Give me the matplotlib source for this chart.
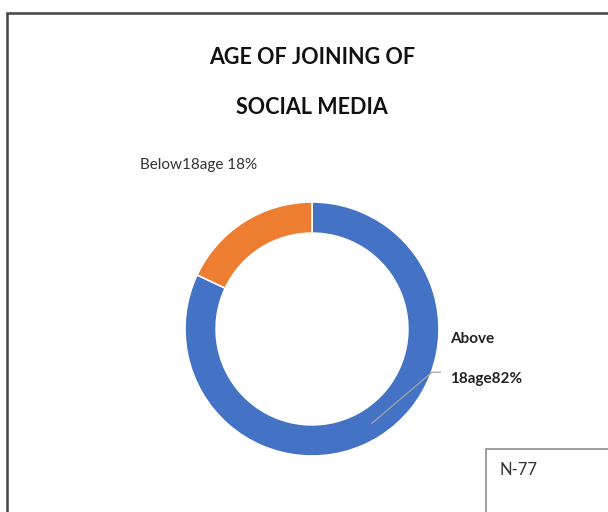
import numpy as np
import matplotlib.pyplot as plt
from matplotlib.patches import Rectangle
from matplotlib.lines import Line2D

# age groups at which respondents joined social media (percent)
groups = ["Above\n18age", "Below18age"]
shares = [82, 18]
colors = ["#4472C4", "#ED7D31"]
sample_note = "N-77"
title_lines = ["AGE OF JOINING OF", "SOCIAL MEDIA"]

W, H = 608, 512
plt.rcParams["font.family"] = ["Lato", "DejaVu Sans"]
fig = plt.figure(figsize=(W / 100, H / 100), dpi=100)


def fx(px):
    return px / W


def fy(py):
    return 1 - py / H


# outer chart frame, running off the right and bottom edges
fig.patches.append(Rectangle((fx(7), fy(600)), 1.2, fy(13) - fy(600),
                             transform=fig.transFigure, fill=False,
                             edgecolor="#444444", linewidth=1.8, figure=fig))
# sample size box in the bottom-right corner
fig.patches.append(Rectangle((fx(486), fy(600)), 0.5, fy(449) - fy(600),
                             transform=fig.transFigure, fill=False,
                             edgecolor="#8f8f8f", linewidth=1.2, figure=fig))
fig.text(fx(500), fy(470), sample_note, fontsize=12, color="#333333",
         ha="left", va="center")

for i, line in enumerate(title_lines):
    fig.text(fx(312), fy(58 + 50 * i), line, fontsize=15.5, fontweight="bold",
             color="#111111", ha="center", va="center")

cx, cy, r = 312, 329, 127
ax = fig.add_axes([fx(cx - r), fy(cy + r), 2 * r / W, 2 * r / H])
wedges, _ = ax.pie(shares, colors=colors, startangle=90, counterclock=False,
                   radius=1, wedgeprops=dict(width=0.245, edgecolor="white",
                                             linewidth=1.2))
ax.set_xlim(-1, 1)
ax.set_ylim(-1, 1)
ax.axis("off")

# leader line for the large slice starts at the middle of its arc
mid = np.deg2rad(90 - 360 * shares[0] / 200)
r0 = 0.88
pts_x = [r0 * np.cos(mid), 0.945, 1.01]
pts_y = [r0 * np.sin(mid), -0.34, -0.34]
ax.add_line(Line2D(pts_x, pts_y, color="#a6a6a6", linewidth=0.9,
                   clip_on=False))

top, bottom = groups[0].split("\n")
fig.text(fx(450), fy(339), top, fontsize=11, fontweight="bold",
         color="#222222", ha="left", va="center")
fig.text(fx(450), fy(379), f"{bottom}{shares[0]}%", fontsize=11,
         fontweight="bold", color="#222222", ha="left", va="center")
fig.text(fx(140), fy(165), f"{groups[1]} {shares[1]}%", fontsize=11,
         color="#333333", ha="left", va="center")

fig.savefig("out.png", dpi=100, facecolor="white")
